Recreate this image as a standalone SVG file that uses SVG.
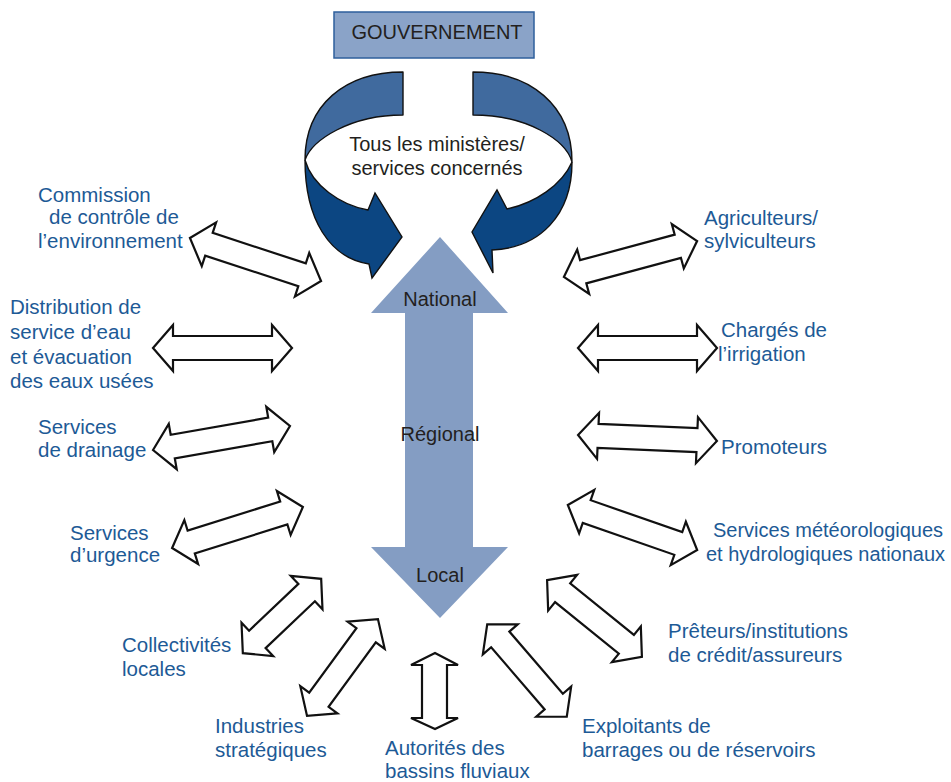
<svg xmlns="http://www.w3.org/2000/svg" width="951" height="782" viewBox="0 0 951 782">
  <style>
    .lbl { font-family: "Liberation Sans", Arial, sans-serif; font-size: 20.5px; fill: #1d5a96; }
    .lbl-narrow { font-size: 20px; }
    .dark { font-family: "Liberation Sans", Arial, sans-serif; font-size: 20px; fill: #231f20; }
    .dbl { fill: #ffffff; stroke: #111111; stroke-width: 2.2; stroke-linejoin: miter; }
    .ribbon-light { fill: #406a9e; stroke: #111111; stroke-width: 1.4; stroke-linejoin: round; }
    .ribbon-dark { fill: #0c4682; stroke: #111111; stroke-width: 1.4; stroke-linejoin: miter; }
  </style>

  <!-- Government box -->
  <g id="gouvernement">
    <rect x="334" y="12" width="200" height="46" fill="#8aa3c8" stroke="#2e5f9c" stroke-width="1.5"/>
    <text class="dark" x="437" y="39" text-anchor="middle">GOUVERNEMENT</text>
  </g>

  <!-- Ministries: two curved ribbon arrows -->
  <g id="ministeres">
    <path class="ribbon-light" d="M403,72 C345,72 305,105 305,160 C312,140 350,115 403,115 Z"/>
    <path class="ribbon-dark" d="M305,160 C305,220 330,258 369,264 L372,278 L402,237 L375,193 L368,210 C340,205 312,185 305,160 Z"/>
    <path class="ribbon-light" d="M473,72 C530,72 572,105 572,162 C566,140 527,115 473,115 Z"/>
    <path class="ribbon-dark" d="M572,162 C572,215 540,248 492,250 L493,273 L472,232 L497,190 L507,209 C535,203 562,185 572,162 Z"/>
    <text class="dark" x="437" y="151" text-anchor="middle">Tous les ministères/</text>
    <text class="dark" x="437" y="175" text-anchor="middle">services concernés</text>
  </g>

  <!-- Central scale arrow -->
  <g id="echelle">
    <polygon points="440,237 508,313 473,313 473,547 508,547 440,618 371,547 405,547 405,313 371,313" fill="#849dc3"/>
    <text class="dark" x="440" y="306" text-anchor="middle">National</text>
    <text class="dark" x="440" y="441" text-anchor="middle">Régional</text>
    <text class="dark" x="440" y="582" text-anchor="middle">Local</text>
  </g>

  <!-- Two-way exchange arrows -->
  <g id="connecteurs">
    <polygon class="dbl" transform="translate(255.5,259.5) rotate(18.17)" points="-69,0 -49,-23 -49,-12 49,-12 49,-23 69,0 49,23 49,12 -49,12 -49,23"/>
    <polygon class="dbl" transform="translate(222.5,348)" points="-69.5,0 -49.5,-23 -49.5,-12 49.5,-12 49.5,-23 69.5,0 49.5,23 49.5,12 -49.5,12 -49.5,23"/>
    <polygon class="dbl" transform="translate(221.5,438) rotate(-9.94)" points="-69.5,0 -49.5,-23 -49.5,-12 49.5,-12 49.5,-23 69.5,0 49.5,23 49.5,12 -49.5,12 -49.5,23"/>
    <polygon class="dbl" transform="translate(237.5,527.5) rotate(-17.38)" points="-68.5,0 -48.5,-23 -48.5,-12 48.5,-12 48.5,-23 68.5,0 48.5,23 48.5,12 -48.5,12 -48.5,23"/>
    <polygon class="dbl" transform="translate(282,616) rotate(-43.5)" points="-54,0 -34,-23 -34,-12 34,-12 34,-23 54,0 34,23 34,12 -34,12 -34,23"/>
    <polygon class="dbl" transform="translate(342.5,667.5) rotate(-53.8)" points="-60,0 -40,-23 -40,-12 40,-12 40,-23 60,0 40,23 40,12 -40,12 -40,23"/>
    <polygon class="dbl" points="435,653 458,665 447,665 447,718 458,718 435,729 411,718 422,718 422,665 411,665"/>
    <polygon class="dbl" transform="translate(527,670.5) rotate(49.3)" points="-61,0 -41,-23 -41,-12 41,-12 41,-23 61,0 41,23 41,12 -41,12 -41,23"/>
    <polygon class="dbl" transform="translate(594.5,618.5) rotate(39)" points="-61,0 -41,-23 -41,-12 41,-12 41,-23 61,0 41,23 41,12 -41,12 -41,23"/>
    <polygon class="dbl" transform="translate(632.5,527.5) rotate(19.23)" points="-68.5,0 -48.5,-23 -48.5,-12 48.5,-12 48.5,-23 68.5,0 48.5,23 48.5,12 -48.5,12 -48.5,23"/>
    <polygon class="dbl" transform="translate(630.5,259) rotate(-15.1)" points="-69,0 -49,-23 -49,-12 49,-12 49,-23 69,0 49,23 49,12 -49,12 -49,23"/>
    <polygon class="dbl" transform="translate(647.5,348)" points="-69.5,0 -49.5,-23 -49.5,-12 49.5,-12 49.5,-23 69.5,0 49.5,23 49.5,12 -49.5,12 -49.5,23"/>
    <polygon class="dbl" transform="translate(647.5,438) rotate(2.5)" points="-69.5,0 -49.5,-23 -49.5,-12 49.5,-12 49.5,-23 69.5,0 49.5,23 49.5,12 -49.5,12 -49.5,23"/>
  </g>

  <!-- Stakeholder labels -->
  <g id="commission">
    <text class="lbl" x="38" y="202">Commission</text>
    <text class="lbl" x="49" y="224">de contrôle de</text>
    <text class="lbl" x="38" y="248">l’environnement</text>
  </g>
  <g id="distribution">
    <text class="lbl" x="10" y="314">Distribution de</text>
    <text class="lbl" x="10" y="339">service d’eau</text>
    <text class="lbl" x="10" y="364">et évacuation</text>
    <text class="lbl" x="10" y="388">des eaux usées</text>
  </g>
  <g id="drainage">
    <text class="lbl" x="38" y="434">Services</text>
    <text class="lbl" x="38" y="457">de drainage</text>
  </g>
  <g id="urgence">
    <text class="lbl" x="70" y="540">Services</text>
    <text class="lbl" x="70" y="562">d’urgence</text>
  </g>
  <g id="collectivites">
    <text class="lbl" x="122" y="652">Collectivités</text>
    <text class="lbl" x="122" y="676">locales</text>
  </g>
  <g id="industries">
    <text class="lbl" x="215" y="733">Industries</text>
    <text class="lbl" x="215" y="757">stratégiques</text>
  </g>
  <g id="bassins">
    <text class="lbl" x="385" y="755">Autorités des</text>
    <text class="lbl" x="385" y="778">bassins fluviaux</text>
  </g>
  <g id="exploitants">
    <text class="lbl" x="582" y="733">Exploitants de</text>
    <text class="lbl" x="582" y="757">barrages ou de réservoirs</text>
  </g>
  <g id="preteurs">
    <text class="lbl" x="668" y="638">Prêteurs/institutions</text>
    <text class="lbl" x="668" y="662">de crédit/assureurs</text>
  </g>
  <g id="meteo">
    <text class="lbl lbl-narrow" x="713" y="537">Services météorologiques</text>
    <text class="lbl lbl-narrow" x="706" y="561">et hydrologiques nationaux</text>
  </g>
  <g id="promoteurs">
    <text class="lbl" x="721" y="454">Promoteurs</text>
  </g>
  <g id="irrigation">
    <text class="lbl" x="721" y="337">Chargés de</text>
    <text class="lbl" x="718" y="361">l’irrigation</text>
  </g>
  <g id="agriculteurs">
    <text class="lbl" x="704" y="225">Agriculteurs/</text>
    <text class="lbl" x="704" y="248">sylviculteurs</text>
  </g>
</svg>
